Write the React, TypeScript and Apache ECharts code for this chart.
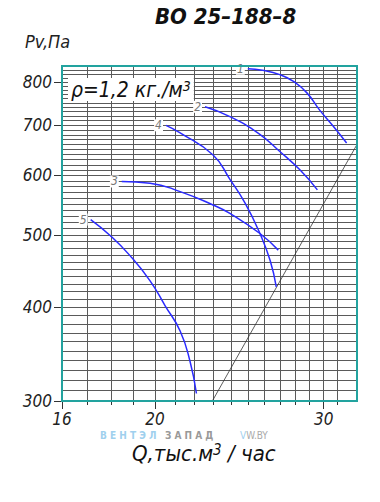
import React, { useEffect, useRef } from "react";
import * as echarts from "echarts";

// ---- data ----
const xLabelValues = [16, 20, 30];
const xGridValues = [17, 18, 19, 20, 21, 22, 23, 24, 25, 26, 27, 28, 29, 30, 31];
const yLabelValues = [300, 400, 500, 600, 700, 800];
const yGridValues: number[] = [];
for (let v = 310; v <= 830; v += 10) yGridValues.push(v);

const curveNames = ["1", "2", "3", "4", "5"];
const curve1 = [[25.0, 833], [25.9, 829], [27.0, 818], [27.9, 801], [28.8, 774], [29.7, 734], [30.7, 698], [31.7, 663]];
const curve2 = [[22.56, 741], [23.95, 719], [25.65, 683], [27.0, 646], [28.35, 610], [29.55, 574]];
const curve3 = [[18.47, 589], [19.77, 586], [21.25, 571], [23.0, 548], [23.95, 534], [25.74, 502], [26.9, 477]];
const curve4 = [[20.54, 700], [21.25, 684], [23.0, 639], [23.95, 593], [24.84, 551], [25.74, 502], [26.38, 462], [26.77, 426]];
const curve5 = [[17.14, 524], [17.96, 499], [18.84, 469], [19.77, 434], [20.5, 402], [21.25, 372], [21.76, 339], [22.1, 307]];
const networkLine = [[22.96, 300], [32.5, 660]];

const xMin = 16;
const xMax = 32.5;
const yMin = 300;
const yMax = 840;

const FONT = "'Liberation Sans Narrow', 'DejaVu Sans Condensed', 'Liberation Sans', sans-serif";
const TEAL = "#22a39f";
const GRIDC = "#5a5a5a";
const BLUE = "#2a2aff";

export default function App() {
  const ref = useRef<HTMLDivElement>(null);
  useEffect(() => {
    if (!ref.current) return;
    const chart = echarts.init(ref.current, null, { renderer: "svg" });
    const curves = [curve1, curve2, curve3, curve4, curve5];
    const curveSeries = curves.map((c, ci) => ({
      type: "line",
      name: curveNames[ci],
      xAxisIndex: 0,
      yAxisIndex: 0,
      smooth: true,
      showSymbol: true,
      showAllSymbol: true,
      symbol: "circle",
      symbolSize: 0,
      lineStyle: { color: BLUE, width: 1.5 },
      itemStyle: { color: BLUE },
      data: c.map((p, i) =>
        i === 0
          ? {
              value: p,
              label: {
                show: true,
                position: "left",
                distance: 3,
                formatter: curveNames[ci],
                color: "#777",
                fontStyle: "italic",
                fontFamily: FONT,
                fontSize: 12,
                backgroundColor: "#fff",
                padding: [0, 1],
              },
            }
          : { value: p, label: { show: false } }
      ),
      z: 3,
    }));

    const labelFont = { fontFamily: FONT, fontStyle: "italic", fontSize: 17, color: "#222" };

    chart.setOption({
      animation: false,
      backgroundColor: "#fff",
      grid: {
        left: 62,
        right: 23,
        top: 66,
        bottom: 101,
        show: true,
        borderColor: TEAL,
        borderWidth: 2,
        backgroundColor: "transparent",
        z: 4,
      },
      xAxis: [
        {
          type: "log",
          min: xMin,
          max: xMax,
          position: "bottom",
          axisLine: { show: false },
          axisTick: { show: true, length: 8, inside: false, customValues: xLabelValues, lineStyle: { color: "#333" } },
          axisLabel: { show: true, customValues: xLabelValues, margin: 9, ...labelFont },
          splitLine: { show: false },
          minorTick: { show: false },
        },
        {
          type: "log",
          min: xMin,
          max: xMax,
          position: "bottom",
          axisLine: { show: false },
          axisTick: { show: true, length: 4, inside: false, customValues: xGridValues, lineStyle: { color: "#333" } },
          axisLabel: { show: false, customValues: xGridValues },
          splitLine: { show: true, lineStyle: { color: GRIDC, width: 1 } },
        },
      ],
      yAxis: [
        {
          type: "log",
          min: yMin,
          max: yMax,
          position: "left",
          axisLine: { show: false },
          axisTick: { show: true, length: 8, inside: false, customValues: yLabelValues, lineStyle: { color: "#333" } },
          axisLabel: { show: true, customValues: yLabelValues, margin: 10, ...labelFont },
          splitLine: { show: false },
        },
        {
          type: "log",
          min: yMin,
          max: yMax,
          position: "left",
          axisLine: { show: false },
          axisTick: { show: false, customValues: yGridValues },
          axisLabel: { show: false, customValues: yGridValues },
          splitLine: { show: true, lineStyle: { color: GRIDC, width: 1 } },
        },
      ],
      series: [
        ...curveSeries,
        {
          type: "line",
          name: "network",
          xAxisIndex: 0,
          yAxisIndex: 0,
          showSymbol: false,
          lineStyle: { color: "#333", width: 0.8 },
          data: networkLine,
          z: 2,
        },
      ],
      graphic: [
        {
          type: "text",
          left: 155,
          top: 5,
          style: { text: "ВО 25–188–8", font: `italic bold 22px ${FONT}`, fill: "#111" },
        },
        {
          type: "text",
          left: 25,
          top: 32,
          style: { text: "Pv,Па", font: `italic 18px ${FONT}`, fill: "#222" },
        },
        {
          type: "text",
          left: 68,
          top: 78,
          z: 10,
          style: {
            text: "{a|ρ=1,2 кг./м}{s|3}",
            backgroundColor: "#fff",
            padding: [1, 3, 1, 3],
            rich: {
              a: { font: `italic 21px ${FONT}`, fill: "#111", verticalAlign: "bottom" },
              s: { font: `italic 14px ${FONT}`, fill: "#111", verticalAlign: "top" },
            },
          },
        },
        {
          type: "text",
          left: 100,
          top: 430,
          style: { text: "В Е Н Т Э Л", font: `bold 10px ${FONT}`, fill: "#9fd0ee" },
        },
        {
          type: "text",
          left: 165,
          top: 430,
          style: { text: "З А П А Д", font: `bold 10px ${FONT}`, fill: "#999" },
        },
        {
          type: "text",
          left: 240,
          top: 430,
          style: { text: "{b|V}{g|W.BY}", rich: { b: { font: `10px ${FONT}`, fill: "#9fd0ee" }, g: { font: `10px ${FONT}`, fill: "#aaa" } } },
        },
        {
          type: "text",
          left: 132,
          top: 442,
          style: {
            text: "{a|Q,тыс.м}{s|3}{a| / час}",
            rich: {
              a: { font: `italic 22px ${FONT}`, fill: "#111", verticalAlign: "bottom" },
              s: { font: `italic 15px ${FONT}`, fill: "#111", verticalAlign: "top" },
            },
          },
        },
      ],
    });
    return () => chart.dispose();
  }, []);
  return <div ref={ref} style={{ position: "fixed", left: 0, top: 0, width: 380, height: 502 }} />;
}
